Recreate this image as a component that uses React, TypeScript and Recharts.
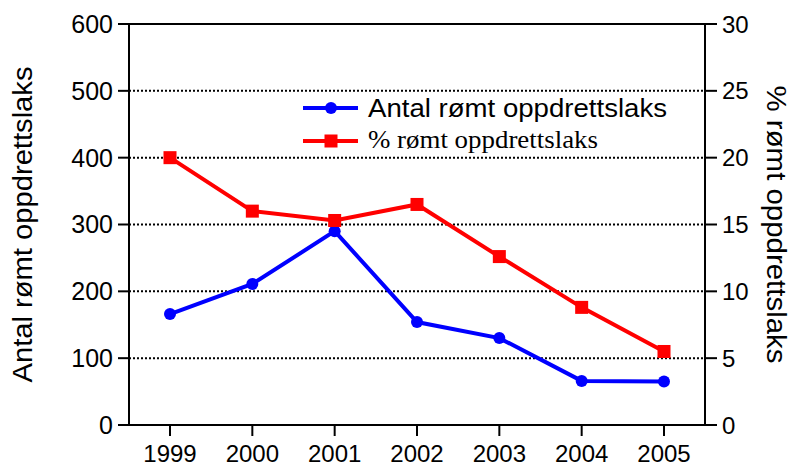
import React from 'react';
import { LineChart, Line, XAxis, YAxis, CartesianGrid, ReferenceLine, Legend } from 'recharts';

const years = ['1999', '2000', '2001', '2002', '2003', '2004', '2005'];
const antalValues = [166, 211, 290, 154, 130, 66, 65];
const percentValues = [20.0, 16.0, 15.3, 16.5, 12.6, 8.8, 5.5];
const leftTicks = [0, 100, 200, 300, 400, 500, 600];
const rightTicks = [0, 5, 10, 15, 20, 25, 30];

const data = years.map((y, i) => ({ year: y, antal: antalValues[i], pct: percentValues[i] }));

const SANS = '"Liberation Sans", Arial, Helvetica, sans-serif';
const SERIF = '"Liberation Serif", "Times New Roman", serif';
const BLUE = '#0000ff';
const RED = '#ff0000';

const SquareDot = (props: any) => {
  const { cx, cy, index } = props;
  if (cx == null || cy == null) return <g key={`sq-${index}`} />;
  return <rect key={`sq-${index}`} x={cx - 6.5} y={cy - 6.5} width={13} height={13} fill={RED} />;
};

const LegendContent = () => (
  <svg width={380} height={70} style={{ display: 'block' }}>
    <line x1={3} y1={18} x2={58} y2={18} stroke={BLUE} strokeWidth={4} />
    <circle cx={31} cy={18} r={6} fill={BLUE} />
    <text x={68} y={27} fontFamily={SANS} fontSize={25} fill="#000" textLength={299} lengthAdjust="spacingAndGlyphs">
      Antal rømt oppdrettslaks
    </text>
    <line x1={3} y1={51} x2={58} y2={51} stroke={RED} strokeWidth={4} />
    <rect x={24.5} y={44.5} width={13} height={13} fill={RED} />
    <text x={68} y={58} fontFamily={SERIF} fontSize={25} fill="#000" textLength={230} lengthAdjust="spacingAndGlyphs">
      % rømt oppdrettslaks
    </text>
  </svg>
);

const LeftLabel = (props: any) => {
  const vb = props.viewBox || {};
  const cy = vb.y + vb.height / 2;
  const x = 32;
  return (
    <text x={x} y={cy} transform={`rotate(-90, ${x}, ${cy})`} textAnchor="middle" fontFamily={SANS} fontSize={27} fill="#000" textLength={316} lengthAdjust="spacingAndGlyphs">
      Antal rømt oppdrettslaks
    </text>
  );
};

const RightLabel = (props: any) => {
  const vb = props.viewBox || {};
  const cy = vb.y + vb.height / 2;
  const x = 767;
  return (
    <text x={x} y={cy} transform={`rotate(90, ${x}, ${cy})`} textAnchor="middle" fontFamily={SANS} fontSize={27} fill="#000" textLength={278} lengthAdjust="spacingAndGlyphs">
      % rømt oppdrettslaks
    </text>
  );
};

const tickStyle = { fill: '#000', fontSize: 24, fontFamily: SANS };
const leftTickStyle = { fill: '#000', fontSize: 25, fontFamily: SANS };
const lineStyle = { stroke: '#000', strokeWidth: 2 };

export default function App() {
  return (
    <div style={{ position: 'absolute', left: 0, top: 0, width: 798, height: 466, background: '#fff' }}>
      <LineChart width={798} height={466} data={data} margin={{ top: 24, right: 0, bottom: 0, left: 0 }}>
        <CartesianGrid vertical={false} stroke="#000" strokeWidth={2} strokeDasharray="2 2" yAxisId="left" />
        <XAxis
          dataKey="year"
          height={41}
          padding={{ left: 41, right: 41 }}
          tickSize={11}
          tickMargin={9}
          tick={tickStyle}
          tickLine={lineStyle}
          axisLine={lineStyle}
          interval={0}
        />
        <YAxis
          yAxisId="left"
          orientation="left"
          width={129}
          domain={[0, 600]}
          ticks={leftTicks}
          interval={0}
          tickSize={11}
          tickMargin={5}
          tick={leftTickStyle}
          tickLine={lineStyle}
          axisLine={lineStyle}
          label={<LeftLabel />}
        />
        <YAxis
          yAxisId="right"
          orientation="right"
          width={93}
          domain={[0, 30]}
          ticks={rightTicks}
          interval={0}
          tickSize={12}
          tickMargin={5}
          tick={tickStyle}
          tickLine={lineStyle}
          axisLine={lineStyle}
          label={<RightLabel />}
        />
        <ReferenceLine yAxisId="left" y={600} stroke="#000" strokeWidth={2} />
        <Legend
          layout="vertical"
          align="center"
          verticalAlign="middle"
          content={<LegendContent />}
          wrapperStyle={{ position: 'absolute', left: 300, top: 90, width: 380, height: 70 }}
        />
        <Line
          yAxisId="left"
          type="linear"
          dataKey="antal"
          stroke={BLUE}
          strokeWidth={4}
          dot={{ r: 6, fill: BLUE, stroke: BLUE, strokeWidth: 0 }}
          activeDot={false}
          isAnimationActive={false}
        />
        <Line
          yAxisId="right"
          type="linear"
          dataKey="pct"
          stroke={RED}
          strokeWidth={4}
          dot={<SquareDot />}
          activeDot={false}
          isAnimationActive={false}
        />
      </LineChart>
    </div>
  );
}
